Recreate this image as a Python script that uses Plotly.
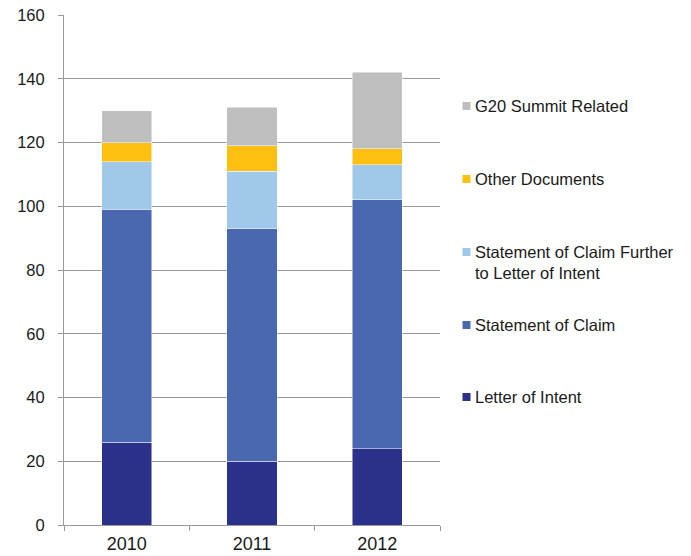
import plotly.graph_objects as go

years = ["2010", "2011", "2012"]
letter_of_intent = [26, 20, 24]
statement_of_claim = [73, 73, 78]
claim_further_to_loi = [15, 18, 11]
other_documents = [6, 8, 5]
g20_summit = [10, 12, 24]

series = [
    ("Letter of Intent", letter_of_intent, "#2B318A"),
    ("Statement of Claim", statement_of_claim, "#4A68B0"),
    ("Statement of Claim Further<br>to Letter of Intent", claim_further_to_loi, "#9FC8EA"),
    ("Other Documents", other_documents, "#FDC010"),
    ("G20 Summit Related", g20_summit, "#BFBFBF"),
]

FONT = "Liberation Sans, Arial, sans-serif"
TEXT = "#1a1a1a"
GRID = "#999999"

fig = go.Figure()
for name, vals, color in series:
    fig.add_trace(go.Bar(
        x=years, y=vals, name=name, showlegend=False,
        marker=dict(color=color, line=dict(color="rgba(255,255,255,0.6)", width=0.8)),
    ))

# Legend drawn beside the plot: small square swatch + label, top entry = top of stack
W, H = 691, 556
ML, MR, MT, MB = 64, 251, 15, 31
pw, ph = W - ML - MR, H - MT - MB
legend_rows = [  # (label, color, centre y in px from top)
    ("G20 Summit Related", "#BFBFBF", 106),
    ("Other Documents", "#FDC010", 179),
    ("Statement of Claim Further<br>to Letter of Intent", "#9FC8EA", 252),
    ("Statement of Claim", "#4A68B0", 325),
    ("Letter of Intent", "#2B318A", 397),
]
def px_x(x):
    return (x - ML) / pw
def px_y(y):
    return 1 - (y - MT) / ph

for label, color, cy in legend_rows:
    fig.add_shape(type="rect", xref="paper", yref="paper",
                  x0=px_x(462.5), x1=px_x(470.5), y0=px_y(cy + 4), y1=px_y(cy - 4),
                  fillcolor=color, line=dict(width=0))
    two_line = "<br>" in label
    fig.add_annotation(
        xref="paper", yref="paper", x=px_x(473), y=px_y(cy - 11 if two_line else cy),
        text=label, showarrow=False, xanchor="left",
        yanchor="top" if two_line else "middle", align="left",
        font=dict(family=FONT, size=16.5, color=TEXT),
    )

fig.update_layout(
    width=W, height=H,
    margin=dict(l=ML, r=MR, t=MT, b=MB, autoexpand=False),
    barmode="stack",
    bargap=0.6,
    plot_bgcolor="white",
    paper_bgcolor="white",
    showlegend=False,
    xaxis=dict(
        type="category",
        range=[-0.5, 2.5],
        automargin=False,
        showline=True, linecolor=GRID, linewidth=1,
        ticks="outside", ticklen=5, tickcolor=GRID,
        tickson="boundaries",
        ticklabelstandoff=2,
        tickfont=dict(family=FONT, size=18, color=TEXT),
        showgrid=False,
    ),
    yaxis=dict(
        range=[0, 160], dtick=20,
        automargin=False,
        showline=True, linecolor=GRID, linewidth=1,
        ticks="outside", ticklen=5, tickcolor=GRID,
        ticklabelstandoff=10,
        gridcolor=GRID, gridwidth=1,
        tickfont=dict(family=FONT, size=16.5, color=TEXT),
        zeroline=False,
    ),
)

fig.write_html("out.html")
